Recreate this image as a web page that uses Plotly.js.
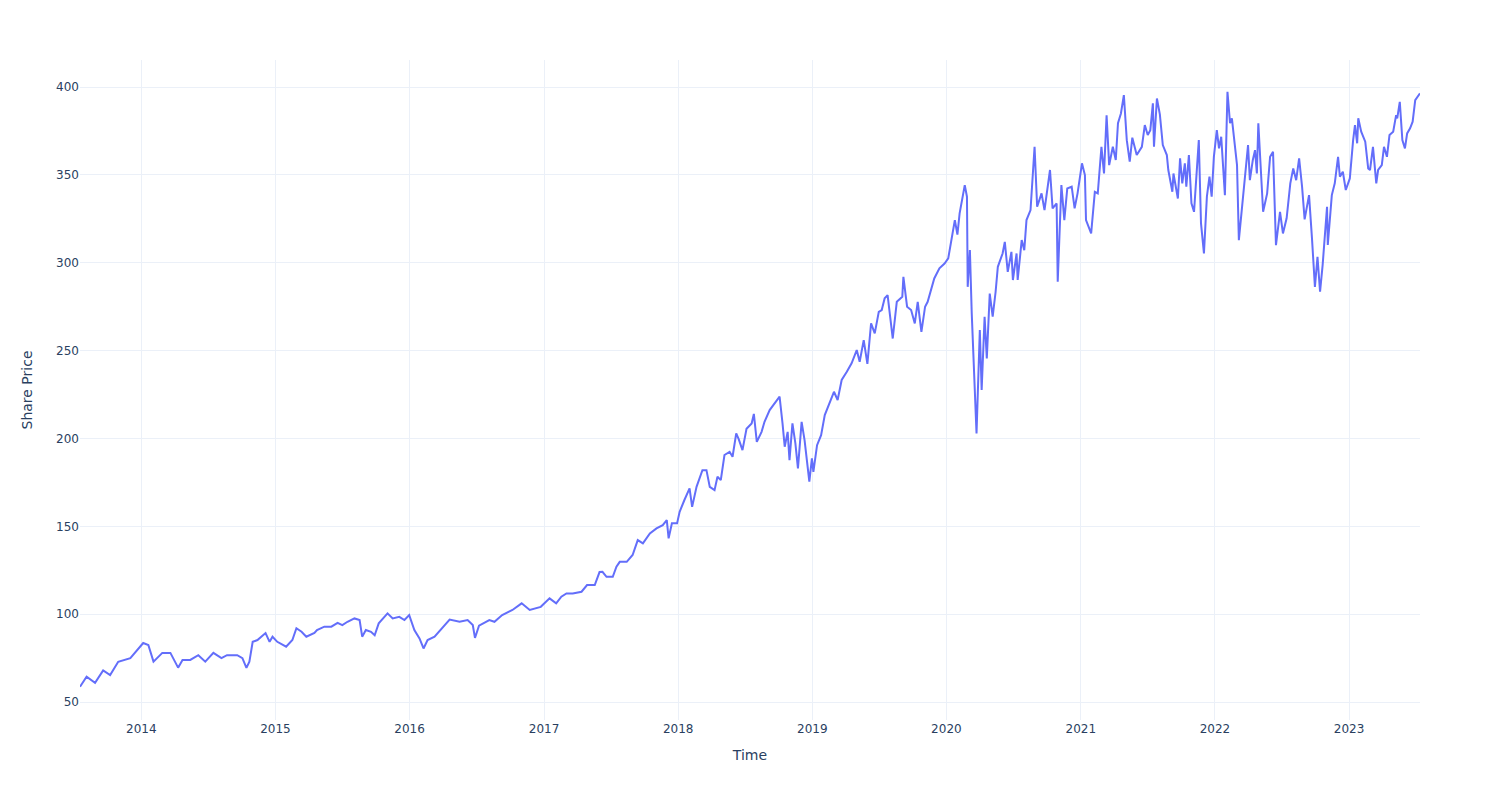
<!DOCTYPE html>
<html>
<head>
<meta charset="utf-8">
<script src="https://cdn.plot.ly/plotly-3.0.1.min.js"></script>
<style>html,body{margin:0;padding:0;background:#fff;}#chart{width:1500px;height:800px;}</style>
</head>
<body>
<div id="chart"></div>
<script>
const dates = [
"2013-07-18","2013-08-05","2013-08-28","2013-09-19","2013-10-08","2013-10-30","2013-12-02",
"2014-01-06","2014-01-20","2014-02-03","2014-02-27","2014-03-21","2014-04-11","2014-04-23","2014-05-14","2014-06-05","2014-06-24","2014-07-16","2014-08-07","2014-08-22","2014-09-19","2014-10-03","2014-10-14","2014-10-22","2014-10-31","2014-11-13","2014-12-05","2014-12-16","2014-12-24",
"2015-01-06","2015-01-30","2015-02-16","2015-02-27","2015-03-13","2015-03-26","2015-04-17","2015-04-24","2015-05-14","2015-06-02","2015-06-19","2015-07-02","2015-07-16","2015-08-04","2015-08-18","2015-08-25","2015-09-04","2015-09-18","2015-09-28","2015-10-09","2015-11-02","2015-11-16","2015-12-04","2015-12-18","2015-12-31",
"2016-01-14","2016-01-28","2016-02-08","2016-02-19","2016-03-09","2016-03-28","2016-04-19","2016-05-16","2016-06-07","2016-06-21","2016-06-27","2016-07-08","2016-08-05","2016-08-19","2016-09-09","2016-10-07","2016-11-01","2016-11-23","2016-12-06","2016-12-23",
"2017-01-16","2017-02-03","2017-02-17","2017-03-03","2017-03-20","2017-04-13","2017-04-28","2017-05-19","2017-06-01","2017-06-09","2017-06-20","2017-07-07","2017-07-17","2017-07-26","2017-08-14","2017-08-30","2017-09-13","2017-09-27","2017-10-16","2017-11-03","2017-11-20","2017-12-01","2017-12-06","2017-12-15","2017-12-29",
"2018-01-05","2018-01-18","2018-02-01","2018-02-08","2018-02-20","2018-03-08","2018-03-19","2018-03-28","2018-04-10","2018-04-18","2018-04-27","2018-05-07","2018-05-21","2018-05-29","2018-06-08","2018-06-15","2018-06-25","2018-07-06","2018-07-20","2018-07-26","2018-08-03","2018-08-16","2018-08-24","2018-09-07","2018-09-26","2018-10-04","2018-10-12","2018-10-18","2018-10-26","2018-10-31","2018-11-08","2018-11-16","2018-11-23","2018-12-03","2018-12-11","2018-12-24","2018-12-31",
"2019-01-04","2019-01-14","2019-01-25","2019-02-04","2019-02-15","2019-03-01","2019-03-11","2019-03-22","2019-04-05","2019-04-18","2019-05-02","2019-05-10","2019-05-21","2019-05-31","2019-06-10","2019-06-20","2019-07-01","2019-07-09","2019-07-17","2019-07-25","2019-08-08","2019-08-19","2019-09-03","2019-09-06","2019-09-16","2019-09-27","2019-10-07","2019-10-15","2019-10-25","2019-11-04","2019-11-11","2019-11-22","2019-11-29","2019-12-13","2019-12-27",
"2020-01-06","2020-01-16","2020-01-24","2020-01-31","2020-02-06","2020-02-20","2020-02-26","2020-02-28","2020-03-05","2020-03-10","2020-03-16","2020-03-23","2020-04-01","2020-04-06","2020-04-14","2020-04-20","2020-04-28","2020-05-06","2020-05-14","2020-05-20","2020-06-02","2020-06-08","2020-06-16","2020-06-26","2020-06-30","2020-07-10","2020-07-13","2020-07-24","2020-07-31","2020-08-06","2020-08-17","2020-08-28","2020-09-04","2020-09-16","2020-09-24","2020-10-02","2020-10-09","2020-10-16","2020-10-27","2020-10-30","2020-11-09","2020-11-17","2020-11-25","2020-12-07","2020-12-15","2020-12-23",
"2021-01-04","2021-01-12","2021-01-15","2021-01-29","2021-02-08","2021-02-16","2021-02-26","2021-03-05","2021-03-12","2021-03-19","2021-03-29","2021-04-06","2021-04-12","2021-04-20","2021-04-28","2021-05-06","2021-05-14","2021-05-21","2021-06-02","2021-06-16","2021-06-24","2021-07-02","2021-07-09","2021-07-16","2021-07-19","2021-07-27","2021-08-04","2021-08-12","2021-08-23","2021-08-27","2021-09-07","2021-09-10","2021-09-22","2021-09-28","2021-10-04","2021-10-11","2021-10-15","2021-10-22","2021-10-29","2021-11-05","2021-11-12","2021-11-18","2021-11-24","2021-12-02","2021-12-10","2021-12-17","2021-12-23",
"2021-12-29","2022-01-06","2022-01-12","2022-01-18","2022-01-28","2022-02-04","2022-02-11","2022-02-16","2022-02-24","2022-03-02","2022-03-07","2022-03-16","2022-03-24","2022-04-01","2022-04-06","2022-04-14","2022-04-20","2022-04-25","2022-04-29","2022-05-09","2022-05-12","2022-05-23","2022-05-31","2022-06-08","2022-06-16","2022-06-27","2022-07-05","2022-07-15","2022-07-25","2022-08-02","2022-08-10","2022-08-18","2022-08-26","2022-09-02","2022-09-14","2022-09-22","2022-09-30","2022-10-07","2022-10-14","2022-10-21","2022-11-02","2022-11-04","2022-11-15","2022-11-23","2022-12-02","2022-12-07","2022-12-15","2022-12-23",
"2023-01-03","2023-01-12","2023-01-17","2023-01-23","2023-01-26","2023-02-03","2023-02-14","2023-02-22","2023-02-27","2023-03-07","2023-03-16","2023-03-21","2023-03-31","2023-04-06","2023-04-14","2023-04-21","2023-05-01","2023-05-09","2023-05-12","2023-05-19","2023-05-26","2023-06-02","2023-06-08","2023-06-16","2023-06-23","2023-06-30","2023-07-07","2023-07-13"
];
const prices = [
58.7,64.4,61.0,68.0,65.4,72.9,75.0,
83.6,82.5,73.0,78.0,78.0,69.6,74.0,74.0,76.7,73.0,78.0,75.0,76.7,76.7,75.0,69.5,73.0,84.3,85.3,89.3,84.3,87.2,
84.3,81.5,85.3,92.0,90.0,87.2,89.3,91.0,92.9,92.9,95.1,93.8,95.7,97.6,96.7,87.2,91.0,90.0,88.0,94.8,100.5,97.6,98.5,96.7,99.5,
91.0,86.2,80.5,85.3,87.2,92.0,97.0,95.7,96.7,93.8,86.5,93.5,96.7,95.7,99.5,102.4,106.2,102.4,103.3,104.2,
109.0,106.2,110.0,111.8,111.8,112.8,116.6,116.6,124.0,124.1,121.3,121.3,127.0,129.8,129.8,133.7,142.2,140.3,146.0,148.8,150.7,153.6,143.2,151.7,151.7,
158.3,165.0,171.6,161.1,172.5,182.0,182.0,172.5,170.6,178.2,176.3,190.6,192.4,189.6,202.9,199.5,193.4,205.5,208.6,214.0,198.1,203.8,209.5,216.2,221.9,223.8,208.6,195.3,203.8,187.7,208.6,197.2,183.0,209.5,199.1,175.4,188.7,
181.0,196.2,201.9,213.3,219.0,226.6,221.9,233.3,238.0,242.8,250.3,243.7,256.0,242.5,265.5,259.8,272.1,273.1,279.8,281.6,256.9,277.8,280.6,292.0,275.0,273.1,265.5,277.8,260.7,275.0,277.8,285.4,291.1,296.8,299.6,
302.5,314.8,324.3,316.0,328.1,344.2,337.6,286.3,307.2,271.2,242.8,202.9,261.7,227.6,269.3,245.6,282.5,269.3,283.5,297.7,305.3,311.9,294.8,306.2,290.2,305.3,290.2,312.9,307.2,324.3,330.0,366.0,331.9,339.5,330.0,343.3,352.8,331.0,333.8,289.2,344.2,324.3,342.3,343.3,331.0,339.5,
356.6,349.9,324.3,316.7,340.4,339.5,366.0,350.8,384.0,355.6,366.0,358.5,379.4,385.0,395.4,369.8,357.5,371.2,361.3,366.0,378.4,372.7,375.5,390.7,366.0,393.5,384.5,367.0,361.3,352.8,340.4,350.8,336.6,359.4,345.2,356.6,343.3,361.3,333.8,329.0,354.7,369.8,322.4,305.3,337.6,349.0,337.6,
360.3,375.5,365.1,371.7,338.5,397.3,379.4,382.2,368.9,355.6,312.9,331.9,349.9,367.0,347.0,358.5,364.1,350.8,379.4,339.5,329.0,339.5,360.3,363.2,310.0,329.0,316.7,325.3,345.2,353.7,347.0,359.4,343.3,324.7,338.5,313.9,286.3,303.4,283.5,298.7,331.9,310.1,338.5,345.2,360.3,349.0,351.8,341.4,
348.0,369.8,378.4,368.0,382.2,374.6,368.9,353.7,352.8,366.0,345.2,352.8,355.6,366.0,360.3,372.7,374.6,384.0,382.2,391.6,369.8,365.1,373.6,376.5,380.3,392.6,394.5,396.4
];

const trace = {
  x: dates, y: prices, type: 'scatter', mode: 'lines',
  line: {color: '#636efa', width: 2}, name: 'Share Price'
};
const layout = {
  width: 1500, height: 800,
  margin: {l: 80, r: 80, t: 60, b: 80},
  paper_bgcolor: '#ffffff', plot_bgcolor: '#ffffff',
  font: {family: '"DejaVu Sans", Verdana, sans-serif', size: 12, color: '#2a3f5f'},
  showlegend: false,
  xaxis: {
    title: {text: 'Time', font: {size: 14}, standoff: 15},
    type: 'date', gridcolor: '#EBF0F8', showline: false, zeroline: false,
    ticks: '', automargin: true
  },
  yaxis: {
    title: {text: 'Share Price', font: {size: 14}, standoff: 20},
    range: [39.8, 415.4], gridcolor: '#EBF0F8', showline: false, zeroline: false,
    ticks: '', automargin: true
  }
};
Plotly.newPlot('chart', [trace], layout, {displayModeBar: false, responsive: false});
</script>
</body>
</html>
